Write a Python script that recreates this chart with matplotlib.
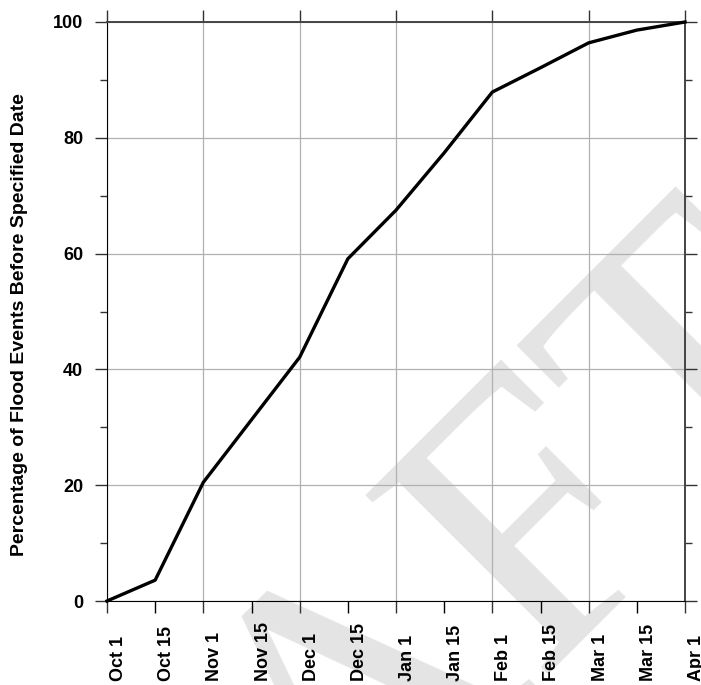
import numpy as np
import matplotlib.pyplot as plt
from matplotlib.ticker import MultipleLocator
from matplotlib.transforms import ScaledTranslation

plt.rcParams['font.family'] = ['Liberation Sans', 'DejaVu Sans']

dates = ['Oct 1', 'Oct 15', 'Nov 1', 'Nov 15', 'Dec 1', 'Dec 15', 'Jan 1',
         'Jan 15', 'Feb 1', 'Feb 15', 'Mar 1', 'Mar 15', 'Apr 1']
pct = [0.0, 3.6, 20.5, 31.3, 42.1, 59.1, 67.5, 77.4, 87.9, 92.1, 96.4, 98.6, 100.0]

x = np.arange(len(dates))

fig = plt.figure(figsize=(7.01, 6.85), dpi=100)
ax = fig.add_axes([107 / 701, 84 / 685, 578 / 701, 579 / 685])
ax.set_facecolor('none')

# faint watermark behind everything
fig.text(0.579, -0.175, 'DRAFT', rotation=45, rotation_mode='anchor',
         ha='center', va='baseline', fontsize=281, family='Liberation Serif',
         color='#e4e4e4', zorder=-1)

ax.plot(x, pct, color='black', lw=2.4, clip_on=False, zorder=5)

ax.set_xlim(0, 12)
ax.set_ylim(0, 100)

# months are major (with grid), mid-months minor
ax.set_xticks(x[::2])
ax.set_xticklabels(dates[::2])
ax.set_xticks(x[1::2], minor=True)
ax.set_xticklabels(dates[1::2], minor=True)
ax.set_yticks(np.arange(0, 101, 20))
ax.yaxis.set_minor_locator(MultipleLocator(10))

ax.grid(which='major', color='#b0b0b0', lw=0.9)

ax.tick_params(axis='x', which='both', direction='out', length=8.6, width=1,
               pad=49, labelsize=13, labelrotation=90)
ax.tick_params(axis='x', which='major', top=True, color='#333333')
ax.tick_params(axis='x', which='minor', top=False)
ax.tick_params(axis='y', which='major', direction='out', length=8.6, width=1,
               left=True, right=True, pad=8.6, labelsize=13, color='#333333')
ax.tick_params(axis='y', which='minor', direction='out', length=5, width=1,
               left=True, right=True, color='#333333')

off = ScaledTranslation(11.5 / 100, 0, fig.dpi_scale_trans)
for lab in ax.get_xticklabels(which='both'):
    lab.set_va('bottom')
    lab.set_fontweight('bold')
    lab.set_transform(lab.get_transform() + off)
for lab in ax.get_yticklabels():
    lab.set_fontweight('bold')

ax.spines['left'].set_color('black')
ax.spines['bottom'].set_color('black')
ax.spines['top'].set_color('#444444')
ax.spines['right'].set_color('#444444')
ax.spines['top'].set_linewidth(1.4)
ax.spines['right'].set_linewidth(1.4)

ax.set_ylabel('Percentage of Flood Events Before Specified Date',
              fontsize=14, fontweight='bold')
ax.yaxis.set_label_coords(-0.137, 0.478)

fig.savefig('out.png', dpi=100)
